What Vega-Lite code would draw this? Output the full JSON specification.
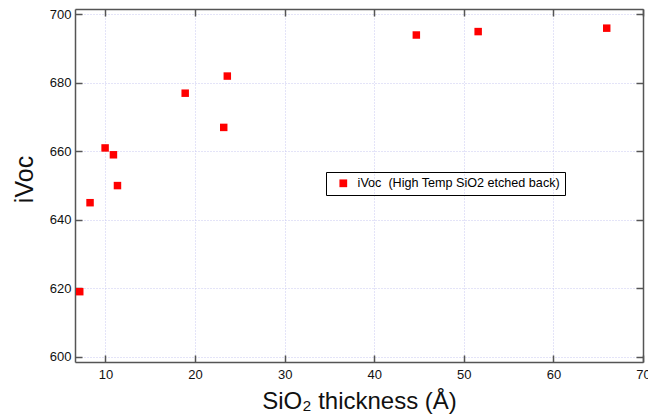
{
  "$schema": "https://vega.github.io/schema/vega-lite/v6.json",
  "width": 568,
  "height": 353,
  "autosize": {"type": "none"},
  "padding": {"left": 75, "top": 9, "right": 5, "bottom": 55},
  "background": "white",
  "config": {
    "view": {"stroke": null},
    "font": "Liberation Sans",
    "axis": {
      "domainColor": "#555555",
      "domainWidth": 1.5,
      "tickColor": "#555555",
      "tickWidth": 1.5,
      "tickSize": -7,
      "labelColor": "#111111",
      "labelFontSize": 13,
      "labelFont": "Liberation Sans",
      "labelFlush": false,
      "titleFont": "Liberation Sans",
      "titleColor": "#111111",
      "titleFontWeight": "normal",
      "gridColor": "#c8c8f0",
      "gridDash": [1, 2],
      "gridWidth": 1
    }
  },
  "data": {
    "values": [
      {"t": 7.13, "v": 619, "s": "iVoc \u00a0(High Temp SiO2 etched back)"},
      {"t": 8.28, "v": 645, "s": "iVoc \u00a0(High Temp SiO2 etched back)"},
      {"t": 9.96, "v": 661, "s": "iVoc \u00a0(High Temp SiO2 etched back)"},
      {"t": 10.89, "v": 659, "s": "iVoc \u00a0(High Temp SiO2 etched back)"},
      {"t": 11.34, "v": 650, "s": "iVoc \u00a0(High Temp SiO2 etched back)"},
      {"t": 18.9, "v": 677, "s": "iVoc \u00a0(High Temp SiO2 etched back)"},
      {"t": 23.2, "v": 667, "s": "iVoc \u00a0(High Temp SiO2 etched back)"},
      {"t": 23.6, "v": 682, "s": "iVoc \u00a0(High Temp SiO2 etched back)"},
      {"t": 44.7, "v": 694, "s": "iVoc \u00a0(High Temp SiO2 etched back)"},
      {"t": 51.6, "v": 695, "s": "iVoc \u00a0(High Temp SiO2 etched back)"},
      {"t": 65.95, "v": 696, "s": "iVoc \u00a0(High Temp SiO2 etched back)"}
    ]
  },
  "layer": [
    {
      "mark": {"type": "point", "shape": "square", "filled": true, "opacity": 1, "size": 56},
      "encoding": {
        "x": {
          "field": "t", "type": "quantitative",
          "scale": {"domain": [6.6, 70], "nice": false, "zero": false},
          "axis": {
            "orient": "bottom",
            "values": [10, 20, 30, 40, 50, 60, 70],
            "title": "SiO\u2082 thickness (\u00c5)",
            "titleFontSize": 24,
            "titleBaseline": "alphabetic",
            "titleY": 46,
            "labelPadding": 13,
            "grid": true
          }
        },
        "y": {
          "field": "v", "type": "quantitative",
          "scale": {"domain": [598.45, 701.6], "nice": false, "zero": false},
          "axis": {
            "orient": "left",
            "values": [600, 620, 640, 660, 680, 700],
            "title": "iVoc",
            "titleFontSize": 25,
            "titleAngle": -90,
            "titleBaseline": "alphabetic",
            "titleAlign": "center",
            "titleX": -43,
            "titleY": 170,
            "labelPadding": 11,
            "grid": true
          }
        },
        "color": {
          "field": "s", "type": "nominal",
          "scale": {"range": ["#ff0000"]},
          "legend": {
            "title": null,
            "orient": "none",
            "legendX": 251,
            "legendY": 163,
            "strokeColor": "#000000",
            "padding": 5,
            "symbolType": "square",
            "symbolSize": 60,
            "symbolOffset": 6,
            "symbolStrokeWidth": 0,
            "labelOffset": 8,
            "labelFontSize": 12.6,
            "labelFont": "Liberation Sans",
            "labelColor": "#000000",
            "labelLimit": 400
          }
        }
      }
    },
    {
      "mark": {"type": "point", "opacity": 0},
      "encoding": {
        "x": {
          "field": "t", "type": "quantitative",
          "axis": {"orient": "top", "values": [10, 20, 30, 40, 50, 60, 70], "labels": false, "title": null, "grid": false}
        },
        "y": {
          "field": "v", "type": "quantitative",
          "axis": {"orient": "right", "values": [600, 620, 640, 660, 680, 700], "labels": false, "title": null, "grid": false}
        }
      }
    }
  ],
  "resolve": {"axis": {"x": "independent", "y": "independent"}}
}
